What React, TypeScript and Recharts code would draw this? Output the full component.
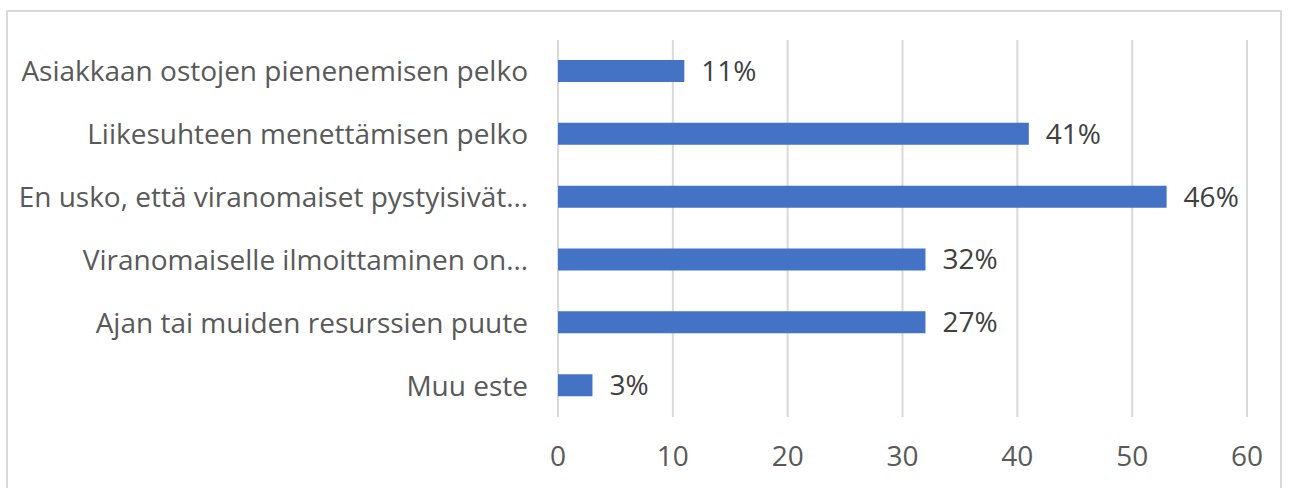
import { BarChart, Bar, XAxis, YAxis, CartesianGrid, LabelList } from "recharts";

const categories = [
  "Asiakkaan ostojen pienenemisen pelko",
  "Liikesuhteen menettämisen pelko",
  "En usko, että viranomaiset pystyisivät…",
  "Viranomaiselle ilmoittaminen on…",
  "Ajan tai muiden resurssien puute",
  "Muu este",
];
const values = [11, 41, 53, 32, 32, 3];
const valueLabels = ["11%", "41%", "46%", "32%", "27%", "3%"];
const xTicks = [0, 10, 20, 30, 40, 50, 60];

const data = categories.map((name, i) => ({
  name,
  value: values[i],
  label: valueLabels[i],
}));

const font = "'Open Sans', 'DejaVu Sans', sans-serif";

export default function App() {
  return (
    <div style={{ position: "absolute", left: 0, top: 0, width: 1291, height: 488, background: "#fff", overflow: "hidden" }}>
      <div
        style={{
          position: "absolute",
          left: 6,
          top: 10,
          width: 1276,
          height: 500,
          border: "2px solid #d9d9d9",
          boxSizing: "border-box",
        }}
      />
      <div style={{ position: "absolute", left: 0, top: 0 }}>
        <BarChart
          width={1291}
          height={488}
          data={data}
          layout="vertical"
          margin={{ top: 40, right: 44, bottom: 0, left: 0 }}
          barCategoryGap={0}
          style={{ fontFamily: font }}
        >
          <CartesianGrid horizontal={false} stroke="#d9d9d9" strokeWidth={2} />
          <XAxis
            type="number"
            domain={[0, 60]}
            ticks={xTicks}
            axisLine={false}
            tickLine={false}
            tickSize={0}
            tickMargin={29}
            height={71}
            interval={0}
            tick={{ fill: "#595959", fontSize: 28, fontFamily: font }}
          />
          <YAxis
            type="category"
            dataKey="name"
            width={558}
            axisLine={false}
            tickLine={false}
            tickSize={0}
            tickMargin={30}
            interval={0}
            tick={{ fill: "#595959", fontSize: 28, fontFamily: font }}
          />
          <Bar dataKey="value" fill="#4472C4" barSize={22} isAnimationActive={false}>
            <LabelList
              dataKey="label"
              position="right"
              offset={17}
              fill="#404040"
              fontSize={28}
              fontFamily={font}
            />
          </Bar>
        </BarChart>
      </div>
    </div>
  );
}
